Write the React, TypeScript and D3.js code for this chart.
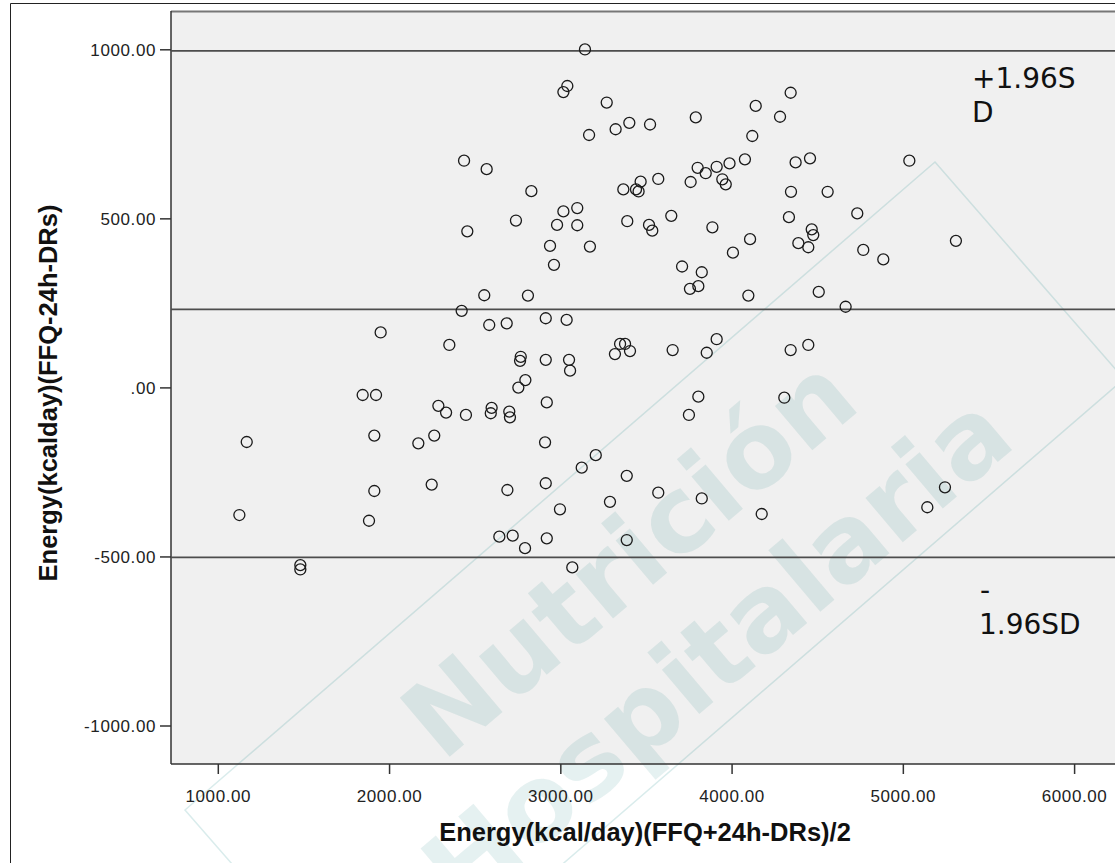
import { scaleLinear } from "d3"

// Bland-Altman: mean energy (x) vs difference FFQ - 24h-DRs (y)
const meanEnergy = [
  3141, 3038, 3015, 3268, 3788, 3400, 3521, 3320, 3165, 2435,
  2567, 2828, 3799, 3846, 3910, 3985, 3758, 3943, 3963, 3466,
  3365, 3439, 3454, 3569, 3015, 3096, 2978, 3096, 2738, 2454,
  3388, 3515, 3534, 3645, 3885, 4005, 2937, 3170, 2960, 3708,
  3823, 3754, 3803, 2553, 2808, 4342, 4138, 4280, 4118, 5035,
  4075, 4371, 4455, 4344, 4558, 4731, 4332, 4105, 4465, 4474,
  4387, 4445, 4766, 4883, 5307, 4095, 4506, 2421, 2582, 2684,
  1948, 2349, 2766, 2762, 2793, 2752, 1843, 1921, 2285, 2330,
  2446, 2596, 2591, 2699, 2703, 1166, 1911, 2168, 2261, 1911,
  2246, 2688, 1123, 1880, 2641, 2719, 2791, 1479, 1479, 4663,
  2912, 3034, 2912, 3048, 3054, 3316, 3346, 3375, 3404, 3653,
  3852, 3910, 4342, 4445, 2918, 3803, 3748, 4305, 2908, 3122,
  3204, 3385, 2912, 2995, 3287, 3569, 3823, 4173, 2918, 3385,
  3067, 5243, 5140,
]
const diffEnergy = [
  1001, 893, 875, 844, 800, 784, 779, 765, 748, 672,
  647, 582, 651, 635, 654, 664, 609, 617, 602, 610,
  587, 587, 581, 618, 522, 532, 482, 481, 495, 463,
  493, 482, 465, 509, 475, 400, 420, 418, 364, 359,
  342, 293, 301, 274, 273, 873, 834, 802, 745, 672,
  676, 667, 679, 580, 580, 516, 505, 440, 469, 452,
  428, 416, 408, 380, 435, 273, 284, 228, 186, 191,
  164, 127, 92, 80, 23, 1, -21, -21, -53, -73,
  -80, -59, -75, -70, -87, -160, -141, -164, -141, -305,
  -286, -302, -376, -393, -440, -437, -474, -524, -537, 240,
  206, 201, 83, 83, 51, 100, 130, 130, 109, 112,
  104, 144, 112, 127, -43, -26, -80, -29, -161, -236,
  -199, -260, -282, -359, -337, -310, -327, -373, -445, -450,
  -531, -294, -353,
]

const xTicks = [1000, 2000, 3000, 4000, 5000, 6000]
const yTicks = [-1000, -500, 0, 500, 1000]

const upperLimit = 997
const meanDiff = 232
const lowerLimit = -501

const W = 1115
const H = 863
const left = 171
const top = 11
const bottom = 764
const right = 1140

const fmt = (v: number) => (v === 0 ? ".00" : v.toFixed(2))

export default function App() {
  const x = scaleLinear().domain([1000, 6000]).range([218.3, 1074.6])
  const y = scaleLinear().domain([-1000, 1000]).range([726, 49.8])

  const pts = meanEnergy.map((m, i) => ({ m, d: diffEnergy[i] }))
  const refLines = [upperLimit, meanDiff, lowerLimit]

  return (
    <svg width={W} height={H} style={{ position: "absolute", left: 0, top: 0, background: "#fff" }}>
      <defs>
        <clipPath id="plot">
          <rect x={left} y={top} width={right - left} height={bottom - top} />
        </clipPath>
      </defs>
      <rect x={0} y={0} width={W} height={H} fill="#fff" />
      <path d={`M10.5,${H} V3.5 H${W}`} fill="none" stroke="#222" strokeWidth={1} />
      <rect x={left} y={top} width={right - left} height={bottom - top} fill="#f0f0f0" />

      {/* watermark */}
      <g fill="#007a7a" fillOpacity={0.1} fontFamily="DejaVu Sans" fontWeight="bold" fontSize={106} textAnchor="middle">
        <text transform="translate(628,556) rotate(-40.2)" dy="0.36em">Nutrición</text>
        <text transform="translate(716,650) rotate(-40.2)" dy="0.36em">Hospitalaria</text>
      </g>
      <polygon points="935,162 1124,379 374,1027 185,810" fill="none" stroke="#008080" strokeOpacity={0.15} strokeWidth={1.5} />

      {/* frame */}
      <line x1={left} x2={W} y1={top + 0.5} y2={top + 0.5} stroke="#777" strokeWidth={2} />
      <line x1={left} x2={left} y1={top} y2={bottom} stroke="#333" strokeWidth={1.5} />
      <line x1={left} x2={W} y1={bottom} y2={bottom} stroke="#333" strokeWidth={1.5} />

      <g clipPath="url(#plot)">
        {refLines.map((v, i) => (
          <line key={i} x1={left} x2={right} y1={y(v)} y2={y(v)} stroke="#4d4d4d" strokeWidth={1.8} />
        ))}
        {pts.map((p, i) => (
          <circle key={i} cx={x(p.m)} cy={y(p.d)} r={5.5} fill="none" stroke="#1a1a1a" strokeWidth={1.3} />
        ))}
      </g>

      {/* axes */}
      <g fontFamily="Liberation Sans, Arial, sans-serif" fontSize={17} fill="#222">
        {yTicks.map(t => (
          <g key={t}>
            <line x1={160} x2={left} y1={y(t)} y2={y(t)} stroke="#333" strokeWidth={1.5} />
            <text x={156} y={y(t)} dy="0.35em" textAnchor="end" letterSpacing={0.6}>{fmt(t)}</text>
          </g>
        ))}
        {xTicks.map(t => (
          <g key={t}>
            <line x1={x(t)} x2={x(t)} y1={bottom} y2={bottom + 10} stroke="#333" strokeWidth={1.5} />
            <text x={x(t)} y={802} textAnchor="middle" letterSpacing={0.6}>{fmt(t)}</text>
          </g>
        ))}
      </g>

      <text x={645} y={841} textAnchor="middle" fontFamily="Liberation Sans, Arial, sans-serif" fontWeight="bold" fontSize={25.5} fill="#111">
        Energy(kcal/day)(FFQ+24h-DRs)/2
      </text>
      <text transform="translate(57,393) rotate(-90)" textAnchor="middle" fontFamily="Liberation Sans, Arial, sans-serif" fontWeight="bold" fontSize={25.5} fill="#111">
        Energy(kcalday)(FFQ-24h-DRs)
      </text>

      {/* limit labels */}
      <g fontFamily="DejaVu Sans" fontSize={28} fill="#111">
        <text x={972} y={88}>+1.96S</text>
        <text x={972} y={122}>D</text>
        <text x={980} y={600}>-</text>
        <text x={979} y={634}>1.96SD</text>
      </g>
    </svg>
  )
}
